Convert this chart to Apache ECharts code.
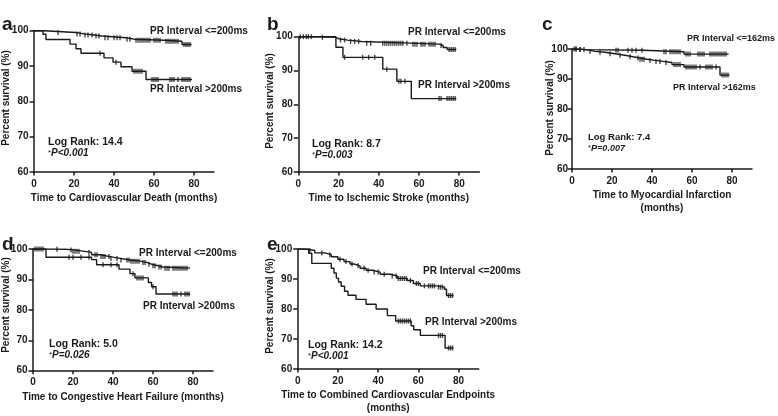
<!DOCTYPE html>
<html><head><meta charset="utf-8">
<script src="https://cdn.jsdelivr.net/npm/echarts@6/dist/echarts.min.js"></script>
<style>html,body{margin:0;padding:0;background:#fff}#c{width:778px;height:416px}</style>
</head><body><div id="c"></div>
<script>
// ---- Data (months, % survival) ----
var xTicks = [0, 20, 40, 60, 80];
var yTicks = [60, 70, 80, 90, 100];

// Panel a: Cardiovascular death
var a_le_t = [0, 5, 21, 25, 30, 34, 46, 50, 65, 74, 78.8];
var a_le_s = [100, 99.5, 99.1, 98.8, 98.5, 98.0, 97.6, 97.3, 97.0, 96.1, 96.1];
var a_gt_t = [0, 4.5, 6, 18, 21, 23.5, 35, 39.5, 43.5, 49, 56, 79];
var a_gt_s = [100, 99.0, 97.5, 96.2, 94.9, 93.6, 92.3, 91.1, 89.8, 88.5, 86.2, 86.2];
var a_le_c = [12, 21.5, 23, 25.5, 27, 29, 31, 32.5, 35.5, 37, 40, 41.5, 43, 46.5, 48, 51, 52, 53, 54, 55, 56, 57, 58, 60, 61, 62, 63, 66, 67, 68, 69, 70, 71, 72, 75, 76, 77, 78];
var a_gt_c = [33, 41, 50, 51, 52, 53, 54, 59, 60, 61, 62, 68, 69, 70, 72, 74, 75, 76, 77, 78];

// Panel b: Ischemic stroke
var b_le_t = [0, 11.5, 18.5, 20, 24.5, 31.5, 56, 70, 72, 74, 78.6];
var b_le_s = [100, 99.8, 99.4, 99.0, 98.6, 98.1, 97.8, 97.4, 96.8, 96.2, 96.2];
var b_gt_t = [0, 18.7, 22.2, 42, 49, 56.2, 78.6];
var b_gt_s = [100, 96.9, 93.9, 90.4, 86.8, 81.7, 81.7];
var b_le_c = [1, 2.5, 4, 5, 6.5, 12, 21, 23, 26, 28, 30, 34, 36, 42, 43, 44, 45, 46, 47, 48, 49, 50, 51, 52, 54, 57, 58, 59, 61, 62, 63, 65, 66, 67, 68, 71, 75, 76, 77, 78];
var b_gt_c = [23, 32, 35, 38, 44, 50, 51, 53, 70, 71, 74, 75, 76, 77, 78];

// Panel c: Myocardial infarction
var c_le_t = [0, 2.5, 6.5, 35.5, 56, 78.3];
var c_le_s = [100, 99.8, 99.6, 99.1, 98.3, 98.3];
var c_gt_t = [0, 3, 7, 11.5, 16.5, 21.5, 26.5, 30.5, 34, 37.5, 41.5, 46.5, 50, 56, 74, 78.8];
var c_gt_s = [100, 99.8, 99.2, 98.9, 98.4, 97.9, 97.4, 97.0, 96.6, 96.2, 95.8, 95.5, 94.8, 94.0, 91.3, 91.3];
var c_le_c = [1, 2, 4, 6, 22, 23, 28, 30, 32, 35, 46, 47, 49, 50, 51, 52, 53, 54, 57, 58, 59, 63, 64, 65, 66, 69, 70, 71, 72, 73, 74, 75, 76, 77];
var c_gt_c = [2, 4, 9, 14, 19, 24, 29, 33, 34, 35, 36, 39, 42, 44, 47, 51, 52, 53, 54, 57, 58, 59, 60, 61, 62, 64, 67, 68, 69, 70, 72, 75, 76, 77, 78];

// Panel d: Congestive heart failure
var d_le_t = [0, 6, 16.8, 20, 25, 29.3, 33.5, 38.5, 43.5, 48.5, 53.5, 56.8, 59.3, 62.7, 65, 78.5];
var d_le_s = [100, 99.9, 99.7, 99.3, 98.9, 98.1, 97.5, 96.9, 96.4, 96.0, 95.6, 95.0, 94.5, 94.1, 93.7, 93.7];
var d_gt_t = [0, 6.5, 29.3, 31.8, 43, 48.5, 51, 57.7, 59.3, 61.5, 78.5];
var d_gt_s = [100, 97.3, 96.5, 94.8, 93.4, 91.9, 90.5, 89.0, 87.6, 85.2, 85.2];
var d_le_c = [1, 2, 3, 4, 5, 12, 19, 20, 21, 22, 23, 28, 31, 32, 34, 35, 36, 38, 39, 42, 44, 47, 48, 49, 50, 51, 52, 53, 55, 56, 58, 60, 61, 63, 64, 66, 67, 68, 70, 71, 72, 73, 74, 75, 76, 77];
var d_gt_c = [18, 20, 24, 28, 35, 39, 42, 50, 52, 53, 54, 55, 60, 70, 71, 72, 74, 76, 77, 78];

// Panel e: Combined cardiovascular endpoints
var e_le_t = [0, 3.5, 8.5, 13.5, 16.7, 20, 23, 26, 28, 31, 34, 37, 41, 46, 49.5, 54.5, 57.5, 61, 69, 73, 74, 77.4];
var e_le_s = [100, 99.5, 98.7, 98.1, 97.4, 96.6, 95.8, 95.0, 94.4, 93.6, 92.9, 92.3, 91.6, 91.0, 90.2, 89.5, 88.5, 87.7, 87.3, 86.6, 84.5, 84.5];
var e_gt_t = [0, 5.5, 7, 16.7, 18, 19.2, 20.3, 21.6, 23.3, 25, 29, 34, 39, 44.6, 48.7, 56.4, 57.7, 61, 73.3, 77.4];
var e_gt_s = [100, 98.6, 95.2, 93.6, 92.0, 90.3, 89.0, 87.6, 85.9, 84.6, 83.2, 81.6, 80.0, 77.8, 76.0, 74.4, 73.1, 71.2, 67.0, 67.0];
var e_le_c = [6, 12, 16, 21, 24, 27, 30, 33, 35, 38, 40, 43, 47, 49, 50, 51, 52, 53, 54, 56, 59, 60, 63, 65, 66, 67, 68, 70, 71, 72, 75, 76, 77];
var e_gt_c = [50, 51, 52, 53, 54, 55, 56, 70, 71, 72, 75, 76, 77];

var xTitles = ['Time to Cardiovascular Death (months)', 'Time to Ischemic Stroke (months)', 'Time to Myocardial Infarction\n(months)', 'Time to Congestive Heart Failure (months)', 'Time to Combined Cardiovascular Endpoints\n(months)'];
var yTitle = 'Percent survival (%)';
var panelLetters = ['a', 'b', 'c', 'd', 'e'];
var upperLabels = ['PR Interval <=200ms', 'PR Interval <=200ms', 'PR Interval <=162ms', 'PR Interval <=200ms', 'PR Interval <=200ms'];
var lowerLabels = ['PR Interval >200ms', 'PR Interval >200ms', 'PR Interval >162ms', 'PR Interval >200ms', 'PR Interval >200ms'];
var logRanks = ['Log Rank: 14.4', 'Log Rank: 8.7', 'Log Rank: 7.4', 'Log Rank: 5.0', 'Log Rank: 14.2'];
var pValues = ['P<0.001', 'P=0.003', 'P=0.007', 'P=0.026', 'P<0.001'];

// ---- Build ----
var panels = [
  {le: [a_le_t, a_le_s, a_le_c], gt: [a_gt_t, a_gt_s, a_gt_c]},
  {le: [b_le_t, b_le_s, b_le_c], gt: [b_gt_t, b_gt_s, b_gt_c]},
  {le: [c_le_t, c_le_s, c_le_c], gt: [c_gt_t, c_gt_s, c_gt_c]},
  {le: [d_le_t, d_le_s, d_le_c], gt: [d_gt_t, d_gt_s, d_gt_c]},
  {le: [e_le_t, e_le_s, e_le_c], gt: [e_gt_t, e_gt_s, e_gt_c]}
];
var grids = [
  {left: 34, top: 30.7, width: 180, height: 141.3},
  {left: 298.3, top: 36.7, width: 181, height: 135.3},
  {left: 572, top: 49, width: 180, height: 120},
  {left: 33, top: 249, width: 180, height: 121.7},
  {left: 297.7, top: 249, width: 181, height: 121.7}
];
var annFont = [10, 10, 9, 10, 10];
var yLabelMargin = [5.5, 5.5, 4, 5.5, 5.5];
var FONT = '"Liberation Sans", Arial, sans-serif';
var INK = '#1a1a1a';

function stepData(t, s) {
  var out = [[t[0], s[0]]];
  for (var i = 1; i < t.length; i++) {
    out.push([t[i], s[i - 1]]);
    out.push([t[i], s[i]]);
  }
  return out;
}
function survAt(t, s, x) {
  var v = s[0];
  for (var i = 0; i < t.length; i++) { if (t[i] <= x) v = s[i]; }
  return v;
}
function censorData(t, s, c) {
  return c.map(function (x) { return [x, survAt(t, s, x)]; });
}

var xAxes = [], yAxes = [], series = [];
grids.forEach(function (g, i) {
  xAxes.push({
    gridIndex: i, type: 'value', min: 0, max: 90,
    axisLine: {lineStyle: {color: INK, width: 1.5}},
    axisTick: {length: 3.5, customValues: xTicks, lineStyle: {color: INK, width: 1.5}},
    axisLabel: {customValues: xTicks, color: INK, fontFamily: FONT, fontWeight: 'bold', fontSize: 10, margin: 7},
    splitLine: {show: false},
    name: xTitles[i], nameLocation: 'middle', nameGap: 20,
    nameTextStyle: {color: INK, fontFamily: FONT, fontWeight: 'bold', fontSize: 10, lineHeight: 13, verticalAlign: 'top'}
  });
  yAxes.push({
    gridIndex: i, type: 'value', min: 60, max: 100, interval: 10,
    axisLine: {show: true, lineStyle: {color: INK, width: 1.5}},
    axisTick: {show: true, length: 4.5, lineStyle: {color: INK, width: 1.5}},
    axisLabel: {color: INK, fontFamily: FONT, fontWeight: 'bold', fontSize: 10, margin: yLabelMargin[i]},
    splitLine: {show: false}
  });
  ['le', 'gt'].forEach(function (k) {
    var d = panels[i][k];
    series.push({
      type: 'line', xAxisIndex: i, yAxisIndex: i, data: stepData(d[0], d[1]),
      symbol: 'none', lineStyle: {color: INK, width: 1.4}, silent: true, animation: false
    });
    series.push({
      type: 'scatter', xAxisIndex: i, yAxisIndex: i, data: censorData(d[0], d[1], d[2]),
      symbol: 'rect', symbolSize: [1.4, 5], itemStyle: {color: INK}, silent: true, animation: false
    });
  });
});

// ---- Annotations ----
var letterPos = [[2, 15], [267, 15], [542, 15], [2, 235], [267, 235]];
var upperPos = [[150, 31], [408, 32], [687, 39], [139, 253], [423, 271]];
var lowerPos = [[150, 89], [418, 85], [673, 88], [143, 306], [425, 322]];
var logPos = [[48, 142], [312, 144], [588, 137], [49, 344], [308, 345]];
var yTitlePos = [[6, 98], [270, 101], [550, 108], [6, 305], [270, 306]];

var graphics = [];
function txt(x, y, text, font, extra) {
  var st = {x: x, y: y, text: text, font: font, fill: INK, align: 'left', verticalAlign: 'middle'};
  for (var k in extra) st[k] = extra[k];
  return {type: 'text', silent: true, style: st};
}
for (var i = 0; i < 5; i++) {
  var fs = annFont[i];
  var BF = 'bold ' + fs + 'px ' + FONT;
  graphics.push(txt(letterPos[i][0], letterPos[i][1], panelLetters[i], 'bold 19px ' + FONT, {verticalAlign: 'alphabetic'}));
  graphics.push(txt(upperPos[i][0], upperPos[i][1], upperLabels[i], BF));
  graphics.push(txt(lowerPos[i][0], lowerPos[i][1], lowerLabels[i], BF));
  graphics.push(txt(logPos[i][0], logPos[i][1], logRanks[i], 'bold ' + (fs + 0.5) + 'px ' + FONT));
  graphics.push(txt(logPos[i][0], logPos[i][1] + 11.5, '{s|*}{p|' + pValues[i] + '}', BF, {
    rich: {s: {fontFamily: FONT, fontSize: 8, fill: INK, verticalAlign: 'top'}, p: {fontFamily: FONT, fontSize: fs, fontWeight: 'bold', fontStyle: 'italic', fill: INK}}
  }));
  graphics.push({type: 'text', silent: true, x: yTitlePos[i][0], y: yTitlePos[i][1], rotation: Math.PI / 2,
    style: {x: 0, y: 0, text: yTitle, font: 'bold 10px ' + FONT, fill: INK, align: 'center', verticalAlign: 'middle'}});
}

var chart = echarts.init(document.getElementById('c'), null, {renderer: 'canvas'});
chart.setOption({
  animation: false,
  grid: grids.map(function (g) { return Object.assign({containLabel: false}, g); }),
  xAxis: xAxes, yAxis: yAxes, series: series, graphic: graphics
});
</script></body></html>
